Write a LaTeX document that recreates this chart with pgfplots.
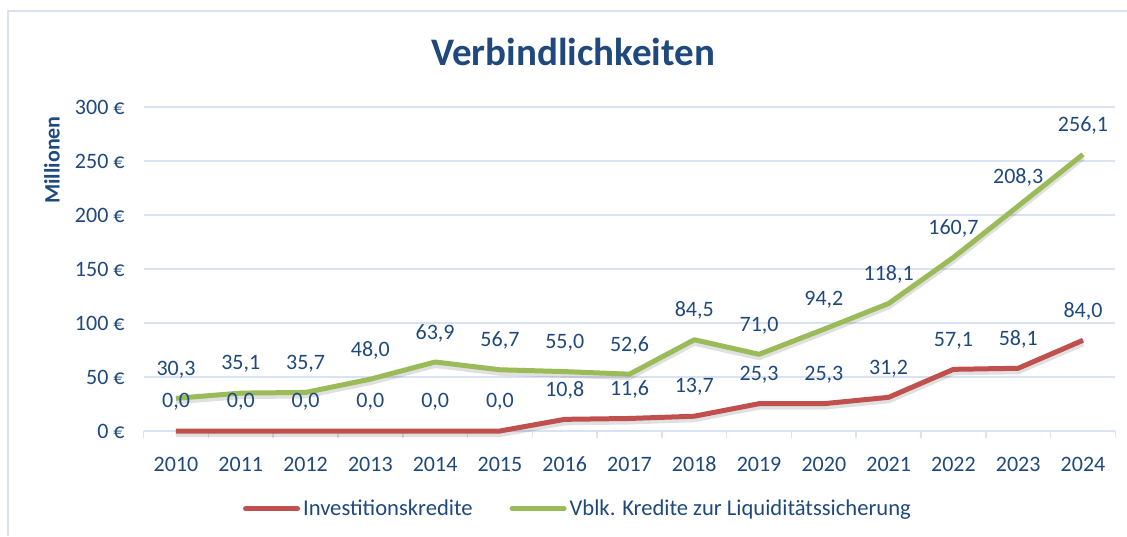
\documentclass[border=0pt]{standalone}
\usepackage{fontspec}
\setmainfont{Carlito}
\usepackage{pgfplots}
\pgfplotsset{compat=1.18}
\definecolor{txt}{HTML}{1F497D}
\definecolor{grd}{HTML}{D9E2F1}
\definecolor{rd}{HTML}{C0504D}
\definecolor{gr}{HTML}{9BBB59}
\begin{document}
\begin{tikzpicture}
\path[use as bounding box] (0,0) rectangle (563.5pt,268pt);
\draw[grd, line width=0.8pt] (4pt,0) -- (4pt,262.5pt) -- (563.5pt,262.5pt);
\node[txt, font=\bfseries\fontsize{19.5}{22}\selectfont] at (286.5pt,242pt) {Verbindlichkeiten};
\node[txt, font=\bfseries\fontsize{11}{13}\selectfont, rotate=90] at (26pt,188pt) {Millionen};
\begin{axis}[
  at={(71.8pt,52.5pt)}, anchor=south west,
  scale only axis, width=485.9pt, height=162pt,
  xmin=-0.5, xmax=14.5, ymin=0, ymax=300,
  ytick={0,50,...,300},
  xtick={0,...,14},
  xticklabels={2010,2011,2012,2013,2014,2015,2016,2017,2018,2019,2020,2021,2022,2023,2024},
  minor xtick={-0.5,0.5,...,14.5},
  major tick length=0pt, minor tick length=3.5pt, tick align=outside,
  minor tick style={grd, line width=0.8pt},
  axis x line*=bottom, axis y line*=left,
  x axis line style={grd, line width=0.8pt},
  y axis line style={draw=none},
  ymajorgrids, grid style={grd, line width=0.8pt},
  /pgf/number format/assume math mode=true,
  yticklabel={\pgfmathprintnumber{\tick} €},
  ticklabel style={font=\fontsize{11}{13}\selectfont, text=txt},
  yticklabel style={xshift=-6pt},
  xticklabel style={anchor=north, text height=8pt, text depth=0pt, yshift=-8.5pt},
  clip=false,
  nodes near coords={\pgfmathprintnumber[fixed, fixed zerofill, precision=1, use comma]{\pgfplotspointmeta}},
  every node near coord/.append style={font=\fontsize{11}{13}\selectfont, text=txt, anchor=center, yshift=14.5pt, inner sep=0pt},
  legend style={at={(0.4475,-0.24)}, anchor=center, draw=none, fill=none, legend columns=2,
    font=\fontsize{11.3}{13}\selectfont, text=txt, inner xsep=0pt, nodes={inner xsep=1.5pt},
    /tikz/every even column/.append style={column sep=17pt}},
  legend image code/.code={\draw[#1, line width=2.5pt, line cap=round] (0pt,0pt) -- (26pt,0pt);},
]
\addplot[black, opacity=0.12, line width=3pt, yshift=-1.5pt, forget plot, nodes near coords=] coordinates {
(0,0) (1,0) (2,0) (3,0) (4,0) (5,0) (6,10.8) (7,11.6) (8,13.7) (9,25.3) (10,25.3) (11,31.2) (12,57.1) (13,58.1) (14,84.0)};
\addplot[black, opacity=0.12, line width=3pt, yshift=-1.5pt, forget plot, nodes near coords=] coordinates {
(0,30.3) (1,35.1) (2,35.7) (3,48.0) (4,63.9) (5,56.7) (6,55.0) (7,52.6) (8,84.5) (9,71.0) (10,94.2) (11,118.1) (12,160.7) (13,208.3) (14,256.1)};
\addplot[rd, line width=2.5pt, line join=round] coordinates {
(0,0) (1,0) (2,0) (3,0) (4,0) (5,0) (6,10.8) (7,11.6) (8,13.7) (9,25.3) (10,25.3) (11,31.2) (12,57.1) (13,58.1) (14,84.0)};
\addlegendentry{Investitionskredite}
\addplot[gr, line width=2.5pt, line join=round] coordinates {
(0,30.3) (1,35.1) (2,35.7) (3,48.0) (4,63.9) (5,56.7) (6,55.0) (7,52.6) (8,84.5) (9,71.0) (10,94.2) (11,118.1) (12,160.7) (13,208.3) (14,256.1)};
\addlegendentry{Vblk. Kredite zur Liquiditätssicherung}
\end{axis}
\end{tikzpicture}
\end{document}
